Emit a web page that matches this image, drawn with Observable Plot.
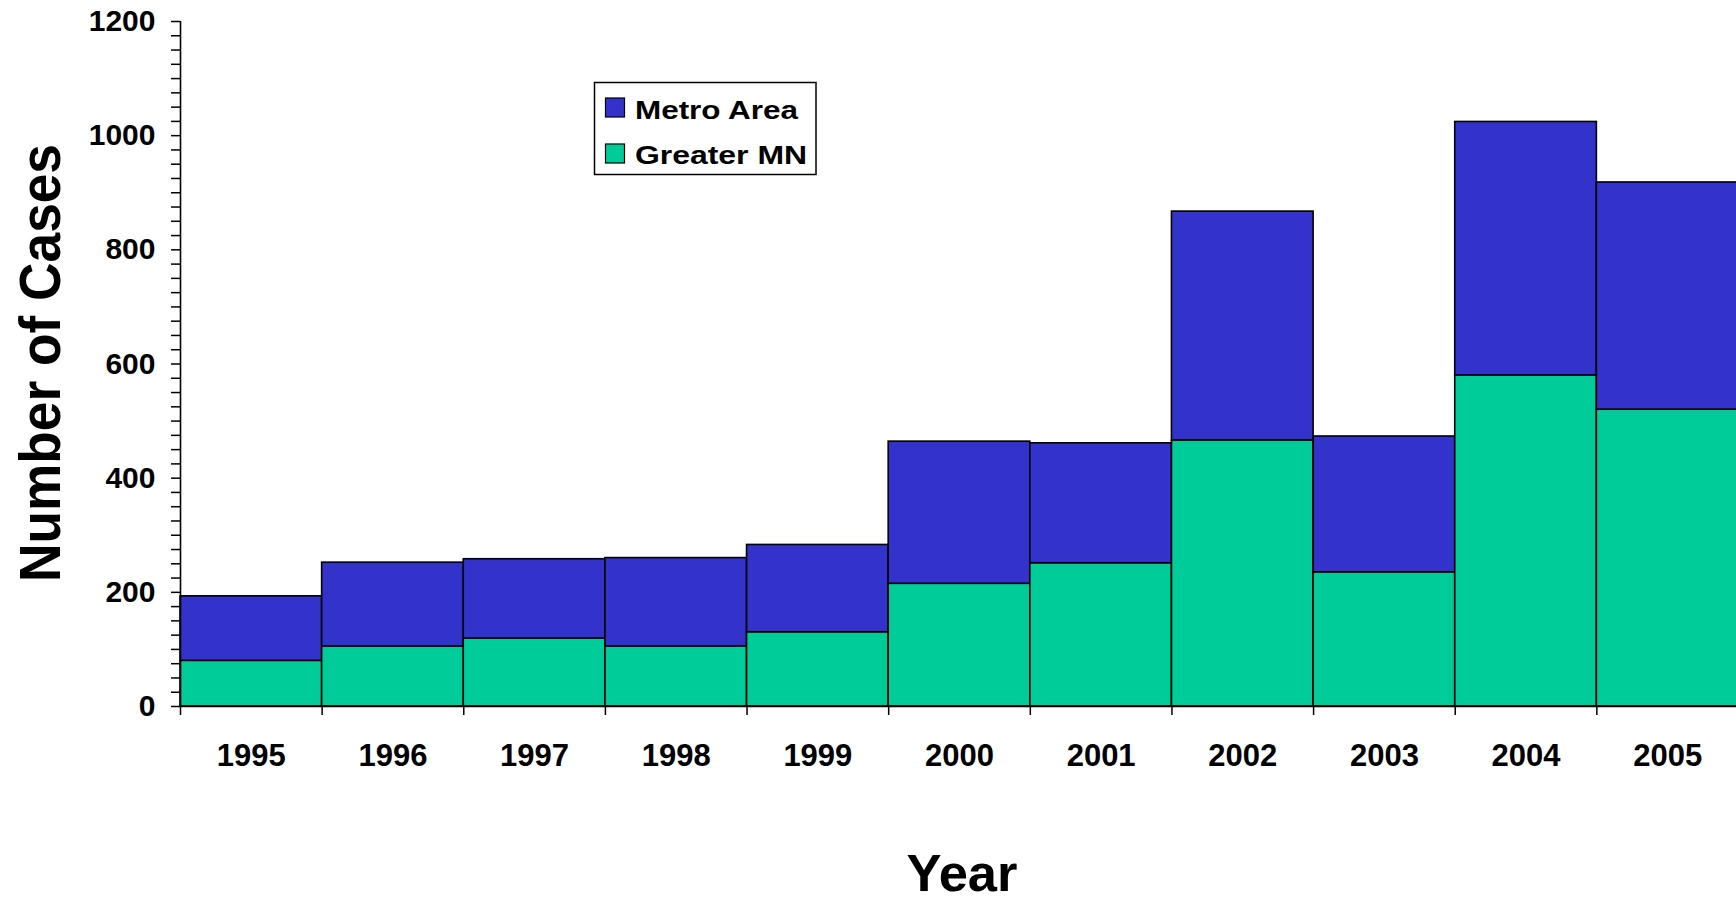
<!DOCTYPE html>
<html><head><meta charset="utf-8">
<script src="https://cdn.jsdelivr.net/npm/d3@7"></script>
<script src="https://cdn.jsdelivr.net/npm/@observablehq/plot@0.6"></script>
<style>
html,body{margin:0;padding:0;background:#fff;}
#chart svg{display:block;}
#chart svg text{font-family:"Liberation Sans",Arial,Helvetica,sans-serif;font-weight:bold;fill:#000;}
</style></head><body><div id="chart"></div>
<script>
const years = [1995,1996,1997,1998,1999,2000,2001,2002,2003,2004,2005];
const greaterMN = [80,105,119,105,130,215,251,466,235,580,520];
const metroArea = [113,147,139,155,153,249,210,401,238,444,398];
const seriesNames = ["Metro Area","Greater MN"];
const seriesColors = ["#3333CC","#00CC99"];
const yTicks = d3.range(0,1201,25);
const yTickLabels = [0,200,400,600,800,1000,1200];
const xBoundaries = d3.range(1994.5,2006,1);
const yTitle = "Number of Cases";
const xTitle = "Year";

const rows = years.flatMap((yr,i)=>[
  {year:yr, region:"Greater MN", value:greaterMN[i]},
  {year:yr, region:"Metro Area", value:metroArea[i]}
]);

const chart = Plot.plot({
  width:1736, height:903,
  marginLeft:180, marginRight:-2, marginTop:21, marginBottom:197,
  style:{background:"#fff", color:"#000", fontFamily:"Liberation Sans, Arial, sans-serif"},
  x:{domain:[1994.5,2005.5]},
  y:{domain:[0,1200]},
  color:{domain:seriesNames, range:seriesColors},
  marks:[
    Plot.rectY(rows,{x1:d=>d.year-0.5, x2:d=>d.year+0.5, y:"value", fill:"region", stroke:"#000", strokeWidth:1.6}),
    Plot.ruleY([0],{stroke:"#000", strokeWidth:1.6}),
    Plot.ruleX([1994.5],{y1:0, y2:1200, stroke:"#000", strokeWidth:1.6}),
    Plot.axisY({ticks:yTicks, tickSize:9, tickPadding:16, strokeWidth:1.5, fontSize:30, fontWeight:"bold",
      tickFormat:d=>yTickLabels.includes(d)?String(d):"", label:null}),
    Plot.axisX({ticks:xBoundaries, tickSize:9, strokeWidth:1.5, tickFormat:()=>"", label:null}),
    Plot.axisX({ticks:years, tickSize:0, tickPadding:37, fontSize:31, fontWeight:"bold",
      tickFormat:d=>String(d), label:null})
  ]
});
document.getElementById("chart").appendChild(chart);

const svg = d3.select(chart);
svg.append("text")
  .attr("transform","translate(60,363) rotate(-90)")
  .attr("text-anchor","middle")
  .attr("font-size",57)
  .attr("textLength",438).attr("lengthAdjust","spacingAndGlyphs")
  .text(yTitle);
svg.append("text")
  .attr("x",962).attr("y",891)
  .attr("text-anchor","middle")
  .attr("font-size",52)
  .attr("textLength",111).attr("lengthAdjust","spacingAndGlyphs")
  .text(xTitle);

const lg = svg.append("g");
lg.append("rect").attr("x",594.5).attr("y",82.5).attr("width",221.5).attr("height",92)
  .attr("fill","#fff").attr("stroke","#000").attr("stroke-width",1.5);
const legendRows = [
  {name:seriesNames[0], color:seriesColors[0], y:98, base:118.5, len:163},
  {name:seriesNames[1], color:seriesColors[1], y:144, base:163.5, len:172}
];
legendRows.forEach(r=>{
  lg.append("rect").attr("x",605.5).attr("y",r.y).attr("width",19).attr("height",19)
    .attr("fill",r.color).attr("stroke","#000").attr("stroke-width",1.2);
  lg.append("text").attr("x",635).attr("y",r.base).attr("font-size",26)
    .attr("text-anchor","start")
    .attr("textLength",r.len).attr("lengthAdjust","spacingAndGlyphs").text(r.name);
});
</script></body></html>
